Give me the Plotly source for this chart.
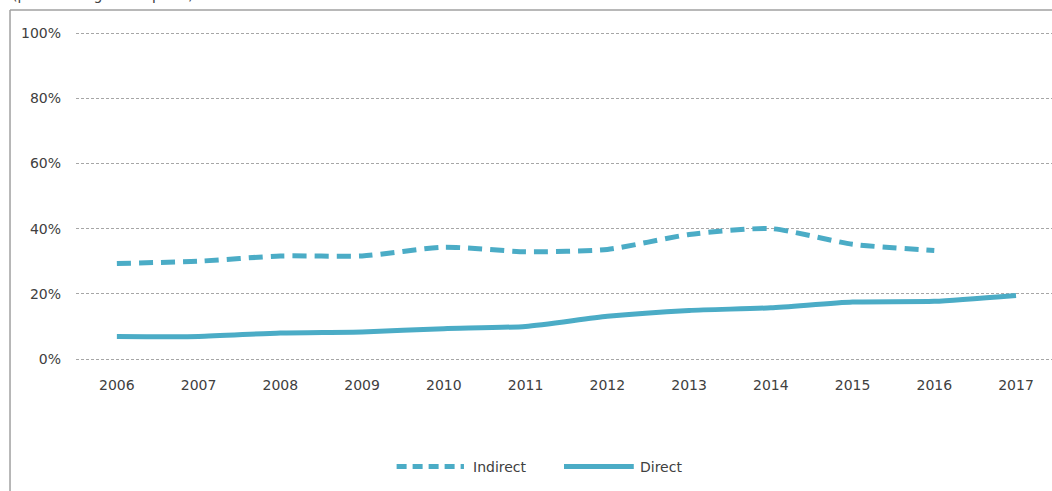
import plotly.graph_objects as go

years = ["2006", "2007", "2008", "2009", "2010", "2011", "2012", "2013", "2014", "2015", "2016", "2017"]
indirect = [0.293, 0.300, 0.316, 0.316, 0.343, 0.329, 0.336, 0.382, 0.400, 0.352, 0.333, None]
direct = [0.069, 0.069, 0.080, 0.083, 0.093, 0.100, 0.131, 0.149, 0.157, 0.175, 0.177, 0.195]
y_ticks = [0, 0.2, 0.4, 0.6, 0.8, 1.0]
y_labels = ["0%", "20%", "40%", "60%", "80%", "100%"]
series_names = ["Indirect", "Direct"]

teal = "#4BACC6"
font = "DejaVu Sans"
txt = "#404040"

fig = go.Figure()
fig.add_trace(go.Scatter(x=years, y=indirect, name=series_names[0], mode="lines",
                         line=dict(color=teal, width=5, dash="14px,8px", shape="spline", smoothing=0.6)))
fig.add_trace(go.Scatter(x=years, y=direct, name=series_names[1], mode="lines",
                         line=dict(color=teal, width=5, shape="spline", smoothing=0.6)))

# outer frame (left and top edges of the chart box)
fig.add_shape(type="line", xref="paper", yref="paper", x0=-0.0676, x1=-0.0676, y0=1.06, y1=-0.42,
              line=dict(color="#a0a0a0", width=1.5))
fig.add_shape(type="line", xref="paper", yref="paper", x0=-0.0676, x1=1.02, y0=1.06, y1=1.06,
              line=dict(color="#a0a0a0", width=1.5))

# chart subtitle, mostly cropped at the top edge as in the source
fig.add_annotation(text="(percent of gross exports)", xref="paper", yref="paper", x=-0.068, y=1.076,
                   xanchor="left", yanchor="bottom", showarrow=False,
                   font=dict(family=font, size=14, color=txt))

# hand-drawn legend with long samples
leg_y = -0.315
fig.add_shape(type="line", xref="paper", yref="paper", x0=0.3285, x1=0.3975, y0=leg_y, y1=leg_y,
              line=dict(color=teal, width=5, dash="10px,6px"))
fig.add_annotation(text=series_names[0], xref="paper", yref="paper", x=0.4045, y=leg_y,
                   xanchor="left", yanchor="middle", showarrow=False,
                   font=dict(family=font, size=14, color=txt))
fig.add_shape(type="line", xref="paper", yref="paper", x0=0.5, x1=0.5715, y0=leg_y, y1=leg_y,
              line=dict(color=teal, width=5))
fig.add_annotation(text=series_names[1], xref="paper", yref="paper", x=0.576, y=leg_y,
                   xanchor="left", yanchor="middle", showarrow=False,
                   font=dict(family=font, size=14, color=txt))

fig.update_layout(
    width=1052, height=491,
    margin=dict(l=76, r=0, t=30, b=129),
    plot_bgcolor="white", paper_bgcolor="white",
    font=dict(family=font, size=14, color=txt),
    showlegend=False,
    xaxis=dict(type="category", range=[-0.5, 11.44], showgrid=False, showline=False,
               ticks="", ticklabelstandoff=13),
    yaxis=dict(range=[-0.0092, 1.0092], tickvals=y_ticks, ticktext=y_labels, showgrid=True,
               gridcolor="#a6a6a6", griddash="3px,2px", gridwidth=1, zeroline=False,
               showline=False, ticks="", ticklabelstandoff=14),
)

fig.write_html("out.html", config={"displayModeBar": False},
               post_script="document.body.style.margin='0';")
